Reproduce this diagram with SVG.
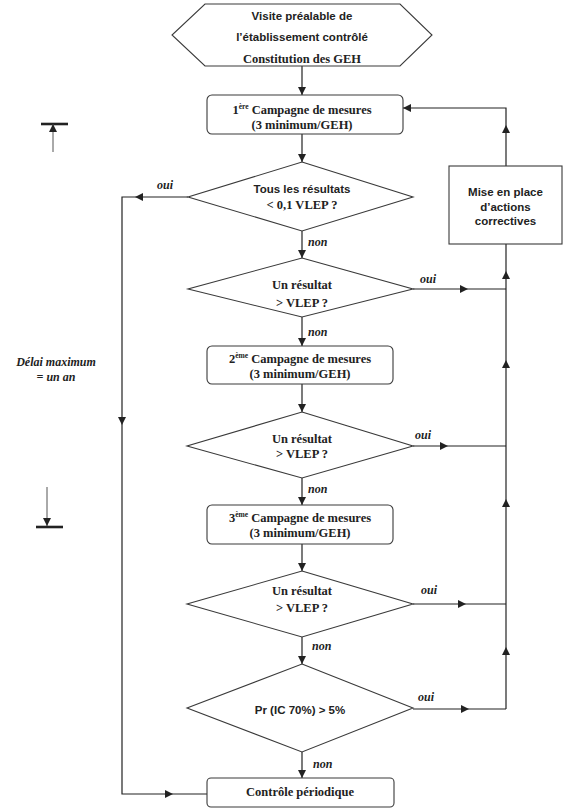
<svg xmlns="http://www.w3.org/2000/svg" width="585" height="812" viewBox="0 0 585 812">
<style>
.shape{fill:#fff;stroke:#3a3a3a;stroke-width:1.1}
.ln{fill:none;stroke:#222;stroke-width:1.2}
.lg{fill:none;stroke:#555;stroke-width:1}
.bar{fill:none;stroke:#222;stroke-width:2.6}
.sans{font-family:'Liberation Sans', Arial, sans-serif;font-weight:bold;font-size:11.5px;fill:#222;text-anchor:middle}
.serif{font-family:'Liberation Serif', 'DejaVu Serif', 'Times New Roman', serif;font-weight:bold;font-size:12.5px;fill:#222;text-anchor:middle}
.lab{font-family:'Liberation Serif', 'DejaVu Serif', 'Times New Roman', serif;font-weight:bold;font-style:italic;font-size:12px;fill:#222}
.sup{font-size:7.5px}
</style>
<defs>
<marker id="arr" viewBox="0 0 10 10" refX="10" refY="5" markerWidth="9" markerHeight="8" markerUnits="userSpaceOnUse" orient="auto">
<path d="M0,0 L10,5 L0,10 z" fill="#222"/>
</marker>
</defs>

<g id="connectors">
<path class="ln" d="M302,66 V95" marker-end="url(#arr)"/>
<path class="ln" d="M302,134 V162" marker-end="url(#arr)"/>
<path class="ln" d="M302,231 V258" marker-end="url(#arr)"/>
<path class="ln" d="M302,317 V346" marker-end="url(#arr)"/>
<path class="ln" d="M302,384 V412" marker-end="url(#arr)"/>
<path class="ln" d="M302,478 V505" marker-end="url(#arr)"/>
<path class="ln" d="M302,544 V571" marker-end="url(#arr)"/>
<path class="ln" d="M302,637 V664" marker-end="url(#arr)"/>
<path class="ln" d="M302,752 V778" marker-end="url(#arr)"/>
<path class="ln" d="M188,197 H135" marker-end="url(#arr)"/>
<path class="ln" d="M135,197 H122 V425" marker-end="url(#arr)"/>
<path class="ln" d="M122,425 V794 H173" marker-end="url(#arr)"/>
<path class="ln" d="M173,794 H207"/>
<path class="ln" d="M413,289 H468" marker-end="url(#arr)"/>
<path class="ln" d="M468,289 H506"/>
<path class="ln" d="M413,446 H448" marker-end="url(#arr)"/>
<path class="ln" d="M448,446 H506"/>
<path class="ln" d="M413,604 H466" marker-end="url(#arr)"/>
<path class="ln" d="M466,604 H506"/>
<path class="ln" d="M413,709 H469" marker-end="url(#arr)"/>
<path class="ln" d="M469,709 H506"/>
<path class="ln" d="M506,709 V647" marker-end="url(#arr)"/>
<path class="ln" d="M506,647 V499" marker-end="url(#arr)"/>
<path class="ln" d="M506,499 V360" marker-end="url(#arr)"/>
<path class="ln" d="M506,360 V271" marker-end="url(#arr)"/>
<path class="ln" d="M506,271 V244"/>
<path class="ln" d="M506,166 V125" marker-end="url(#arr)"/>
<path class="ln" d="M506,125 V108 H403" marker-end="url(#arr)"/>
</g>

<g id="delai">
<path class="bar" d="M41,124 H68"/>
<path class="lg" d="M53,152 V124" marker-end="url(#arr)"/>
<path class="lg" d="M47,487 V526" marker-end="url(#arr)"/>
<path class="bar" d="M36,527 H63"/>
<text class="lab" x="56" y="366" text-anchor="middle">Délai maximum</text>
<text class="lab" x="56" y="381" text-anchor="middle">= un an</text>
</g>

<g id="visite">
<polygon class="shape" points="205,4 400,4 432,35 400,66 205,66 172,35"/>
<text class="sans" x="302" y="20">Visite préalable de</text>
<text class="sans" x="302" y="41">l’établissement contrôlé</text>
<text class="serif" x="302" y="63">Constitution des GEH</text>
</g>

<g id="campagne1">
<rect class="shape" x="207" y="95" width="196" height="39" rx="5"/>
<text class="serif" x="302" y="114">1<tspan class="sup" dy="-5">ère</tspan><tspan dy="5"> Campagne de mesures</tspan></text>
<text class="serif" x="302" y="129">(3 minimum/GEH)</text>
</g>

<g id="test1">
<polygon class="shape" points="302,162 413,197 302,231 188,197"/>
<text class="sans" x="302" y="193">Tous les résultats</text>
<text class="serif" x="302" y="209">&lt; 0,1 VLEP ?</text>
<text class="lab" x="157" y="189">oui</text>
<text class="lab" x="308" y="246">non</text>
</g>

<g id="actions">
<rect class="shape" x="449" y="166" width="113" height="78"/>
<text class="sans" x="505.5" y="196">Mise en place</text>
<text class="sans" x="505.5" y="211">d’actions</text>
<text class="sans" x="505.5" y="225">correctives</text>
</g>

<g id="test2">
<polygon class="shape" points="302,258 413,289 302,317 188,289"/>
<text class="serif" x="302" y="289">Un résultat</text>
<text class="serif" x="302" y="307">&gt; VLEP ?</text>
<text class="lab" x="420" y="283">oui</text>
<text class="lab" x="308" y="336">non</text>
</g>

<g id="campagne2">
<rect class="shape" x="207" y="346" width="186" height="38" rx="5"/>
<text class="serif" x="300" y="363">2<tspan class="sup" dy="-5">ème</tspan><tspan dy="5"> Campagne de mesures</tspan></text>
<text class="serif" x="300" y="378">(3 minimum/GEH)</text>
</g>

<g id="test3">
<polygon class="shape" points="302,412 413,446 302,478 187,446"/>
<text class="serif" x="302" y="443">Un résultat</text>
<text class="serif" x="302" y="458">&gt; VLEP ?</text>
<text class="lab" x="415" y="439">oui</text>
<text class="lab" x="308" y="493">non</text>
</g>

<g id="campagne3">
<rect class="shape" x="207" y="505" width="186" height="39" rx="5"/>
<text class="serif" x="300" y="522">3<tspan class="sup" dy="-5">ème</tspan><tspan dy="5"> Campagne de mesures</tspan></text>
<text class="serif" x="300" y="537">(3 minimum/GEH)</text>
</g>

<g id="test4">
<polygon class="shape" points="302,571 413,604 302,637 187,604"/>
<text class="serif" x="302" y="595">Un résultat</text>
<text class="serif" x="302" y="612">&gt; VLEP ?</text>
<text class="lab" x="421" y="594">oui</text>
<text class="lab" x="312" y="650">non</text>
</g>

<g id="test5">
<polygon class="shape" points="302,664 413,708 302,752 187,708"/>
<text class="sans" x="300" y="714">Pr (IC 70%) &gt; 5%</text>
<text class="lab" x="418" y="701">oui</text>
<text class="lab" x="313" y="768">non</text>
</g>

<g id="controle">
<rect class="shape" x="207" y="778" width="187" height="29" rx="4"/>
<text class="serif" x="300" y="796">Contrôle périodique</text>
</g>
</svg>
